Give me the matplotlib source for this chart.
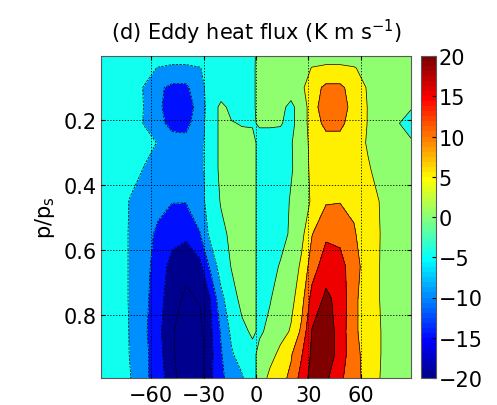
import matplotlib
matplotlib.use('Agg')
import matplotlib.pyplot as plt
from matplotlib.colors import ListedColormap, Normalize
from matplotlib.cm import ScalarMappable

plt.rcParams['font.family'] = ['DejaVu Sans']
plt.rcParams['mathtext.default'] = 'regular'

# latitude (deg) and p/ps levels of the zonal-mean field
lat = [-88.6, -80, -72, -64, -56, -48, -40, -32, -26, -20, -14, -8, -2,
       2, 8, 14, 20, 26, 32, 40, 48, 56, 64, 72, 80, 88.6]
sigma = [0.003, 0.04, 0.1, 0.16, 0.21, 0.27, 0.35, 0.45, 0.55, 0.65, 0.75, 0.85, 0.92, 0.993]

# eddy heat flux (K m/s), one row per sigma level
flux = [
    [-1, -1, -1.5, -2, -2.5, -3, -3, -2.5, -2, -1.5, -1, -0.6, -0.2, 0.3, 0.6, 1, 1.5, 2, 2.5, 3, 3, 2.5, 2, 1.5, 1, 1],
    [-1, -1.2, -2, -3.5, -5.2, -5.8, -5.8, -5.2, -3, -2, -1.5, -1, -0.3, 0.5, 1, 1.5, 2, 3, 5.2, 5.8, 5.8, 5.3, 3.5, 2, 1.2, 1],
    [-1.5, -2, -3, -5.2, -9.2, -11, -11, -6.5, -3, -2.5, -1.5, -1, -0.3, 0.5, 1.2, 1.8, 1, 4, 8, 11, 11, 8, 4.5, 2.5, 1.5, 1],
    [-1, -2, -3, -5.1, -9, -12.5, -13, -7.5, -2.5, 1, -1, -1, -0.3, 0.5, 1, 0.5, -0.5, 1, 8.5, 12, 12, 8.5, 4.8, 2.5, 1, 0.2],
    [-1, -2, -3, -5.2, -8.5, -11.5, -11.5, -7, -2.5, 1, 0.2, -0.2, -0.3, 0.3, 0.3, 0.2, -0.8, 1.5, 8, 11, 11, 8, 4.8, 2.5, 0.3, -1],
    [-1, -1.5, -2.5, -3.5, -5.2, -8, -8.5, -6.5, -2.5, 1, 1.2, 1, 1, -1, -1, -1, -0.2, 1.5, 7, 8.5, 8.5, 7.5, 4.5, 2.5, 1, 0.3],
    [-1, -1.5, -3, -5.2, -7, -8.5, -9, -6.5, -2.5, 1, 1.5, 1.5, 1, -1, -1.5, -1.5, -0.3, 1.5, 6.5, 8.5, 9, 8, 5.5, 3, 1.5, 1],
    [-1, -2, -5.3, -6.5, -8.5, -9.8, -9.8, -7, -2.5, 0.3, 1.5, 1.5, 1, -1, -1.5, -1.5, 0.3, 1, 6, 9.5, 9.8, 9, 7, 4.5, 2, 1],
    [-1, -2, -5.5, -8, -11, -13.5, -14, -10.2, -3.5, -1, 0.8, 1.5, 1.2, -1.2, -1.5, -1.2, 0.5, 3.5, 9.8, 14, 13.5, 10.5, 7, 4.7, 2, 1],
    [-1, -2, -5.5, -8, -12.5, -16.5, -18.5, -16.5, -9, -2.5, 0.2, 1.5, 1.2, -1.2, -1.2, 0.3, 1.5, 6, 12.5, 18, 17, 12, 7.5, 4.5, 2, 1],
    [-1, -2, -5.5, -8.5, -13, -18, -21, -19.5, -15, -6.5, -1.5, 1, 1, -1, -0.2, 1.5, 3.5, 8, 17, 21, 18.5, 11, 7.5, 4.5, 2, 1],
    [-1, -2, -5.3, -9, -13.5, -19.5, -23, -21.5, -16, -9.5, -4, -0.8, 0.5, -0.5, 0.8, 3, 5.5, 11, 20.3, 23, 18, 11, 7.5, 4.8, 2, 1],
    [-1, -2, -5.2, -8.5, -13, -19, -24, -22, -16.5, -10.5, -5.5, -3, -1, 1, 3, 6.5, 9.5, 14.5, 21, 24, 17.5, 12, 7.5, 4.8, 2, 1],
    [-1, -2.5, -4.8, -9, -12, -18.5, -23, -21.5, -16, -11, -8, -5.5, -1.5, 1.5, 6.5, 8.5, 11, 17, 22, 21, 16, 12, 8, 4.5, 2.5, 1],
]

fill_levels = [-30, -20, -15, -10, -5, 0, 5, 10, 15, 20, 30]
line_levels = [-20, -15, -10, -5, 0, 5, 10, 15, 20]
xticks = [-60, -30, 0, 30, 60]
yticks = [0.2, 0.4, 0.6, 0.8]
cticks = [-20, -15, -10, -5, 0, 5, 10, 15, 20]


def jet64():
    # same colours as the old MATLAB jet(64)
    cols = []
    for k in range(1, 65):
        if k <= 8:
            c = (0, 0, 0.5 + k / 16)
        elif k <= 24:
            c = (0, (k - 8) / 16, 1)
        elif k <= 40:
            c = ((k - 24) / 16, 1, 1 - (k - 24) / 16)
        elif k <= 56:
            c = (1, 1 - (k - 40) / 16, 0)
        else:
            c = (1 - (k - 56) / 16, 0, 0)
        cols.append(c)
    return cols


jet = jet64()
# each band takes the colour of its lower level, clipped to [-20, 20]
band_colors = []
for lev in fill_levels[:-1]:
    v = min(max(lev, -20), 20)
    k = min(int((v + 20) / 40 * 64), 63)
    band_colors.append(jet[k])

fig = plt.figure(figsize=(4.97, 4.06), dpi=100)
ax = fig.add_axes([101 / 497, 27 / 406, 310 / 497, 322 / 406])

ax.contourf(lat, sigma, flux, levels=fill_levels, colors=band_colors)
ax.contour(lat, sigma, flux, levels=line_levels, colors='k', linewidths=0.5)

ax.set_xlim(lat[0], lat[-1])
ax.set_ylim(sigma[-1], sigma[0])
ax.set_xticks(xticks)
ax.set_yticks(yticks)
ax.set_yticklabels([f'{t:.1f}' for t in yticks])
ax.grid(True, color='k', linestyle=(0, (1.5, 2)), linewidth=0.6)
ax.set_axisbelow(False)
ax.tick_params(direction='in', length=3, labelsize=15, top=True, right=True)
ax.tick_params(axis='x', pad=5)
ax.tick_params(axis='y', pad=3)
for s in ax.spines.values():
    s.set_color('0.35')
    s.set_linewidth(0.8)

ax.set_ylabel('p/p$_s$', fontsize=15, labelpad=5)
ax.set_title('(d) Eddy heat flux (K m s$^{-1}$)', fontsize=15, pad=12)

cax = fig.add_axes([421 / 497, 27 / 406, 15 / 497, 322 / 406])
sm = ScalarMappable(norm=Normalize(-20, 20), cmap=ListedColormap(jet))
cb = fig.colorbar(sm, cax=cax, ticks=cticks)
cb.outline.set_edgecolor('0.35')
cb.outline.set_linewidth(0.8)
cax.tick_params(direction='in', length=3, labelsize=15, pad=2)

fig.savefig('out.png', dpi=100)
